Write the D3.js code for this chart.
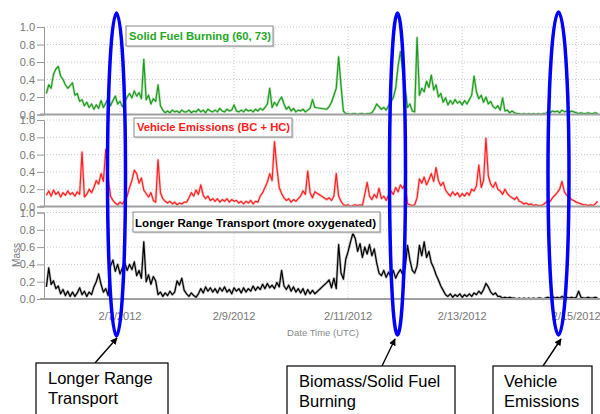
<!DOCTYPE html>
<html>
<head>
<meta charset="utf-8">
<script src="https://cdn.jsdelivr.net/npm/d3@7"></script>
<style>
  body { margin: 0; background: #fff; }
  svg { display: block; font-family: 'Liberation Sans', Arial, sans-serif; }
</style>
</head>
<body>
<div id="chart"></div>
<script>
// Parameters
const width = 600;
const height = 414;

// hourly samples, first one at 2/5/2012 16:00 UTC
const startHour = Date.UTC(2012, 1, 5, 16);
const endHour = Date.UTC(2012, 1, 15, 10);

const tickDates = [Date.UTC(2012, 1, 7), Date.UTC(2012, 1, 9), Date.UTC(2012, 1, 11), Date.UTC(2012, 1, 13), Date.UTC(2012, 1, 15)];
const tickLabels = ['2/7/2012', '2/9/2012', '2/11/2012', '2/13/2012', '2/15/2012'];
const yTicks = [0, 0.2, 0.4, 0.6, 0.8, 1.0];

const panelTitles = ['Solid Fuel Burning (60, 73)', 'Vehicle Emissions (BC + HC)', 'Longer Range Transport (more oxygenated)'];

const solidFuel = [
  null, 0.24, 0.34, 0.30, 0.46, 0.52, 0.55, 0.44, 0.40, 0.34, 0.30, 0.33,
  0.36, 0.22, 0.24, 0.15, 0.17, 0.10, 0.14, 0.08, 0.12, 0.06, 0.11, 0.07,
  0.16, 0.08, 0.13, 0.18, 0.10, 0.16, 0.21, 0.12, 0.15, 0.09, 0.14, 0.20,
  0.24, 0.19, 0.27, 0.21, 0.25, 0.18, 0.63, 0.17, 0.22, 0.12, 0.18, 0.15,
  0.34, 0.10, 0.05, 0.02, 0.04, 0.02, 0.05, 0.03, 0.04, 0.02, 0.05, 0.03,
  0.03, 0.05, 0.02, 0.04, 0.03, 0.06, 0.03, 0.05, 0.02, 0.06, 0.04, 0.03,
  0.05, 0.03, 0.07, 0.04, 0.03, 0.06, 0.04, 0.05, 0.11, 0.04, 0.03, 0.05,
  0.03, 0.06, 0.04, 0.05, 0.03, 0.06, 0.04, 0.07, 0.05, 0.08, 0.12, 0.30,
  0.08, 0.14, 0.10, 0.16, 0.20, 0.12, 0.06, 0.09, 0.04, 0.07, 0.03, 0.05,
  0.04, 0.06, 0.03, 0.05, 0.07, 0.17, 0.08, null, null, null, null, 0.06,
  0.09, 0.14, 0.22, 0.30, 0.66, 0.33, 0.04, 0.01, 0.01, 0.00, 0.01, 0.01,
  0.00, 0.01, 0.01, 0.00, 0.01, 0.01, 0.02, 0.06, 0.12, 0.09, 0.06, 0.08,
  0.05, 0.10, 0.15, 0.19, 0.30, 0.55, 0.72, 0.50, 0.30, 0.08, 0.12, 0.04,
  0.03, 0.88, 0.22, 0.30, 0.26, 0.38, 0.31, 0.45, 0.28, 0.34, 0.20, 0.24,
  0.14, 0.19, 0.11, 0.16, 0.12, 0.17, 0.13, 0.15, 0.11, 0.16, 0.12, 0.17,
  0.22, 0.44, 0.26, 0.18, 0.22, 0.14, 0.20, 0.12, 0.15, 0.09, 0.07, 0.10,
  0.05, 0.19, 0.04, 0.05, 0.02, 0.04, 0.02, 0.01, 0.01, 0.00, 0.01, 0.00,
  0.01, 0.00, 0.01, 0.00, 0.01, 0.00, 0.01, 0.01, 0.03, 0.02, 0.04, 0.03,
  0.04, 0.02, 0.05, 0.03, 0.04, 0.02, 0.04, 0.03, 0.02, 0.01, 0.02, 0.01,
  0.01, 0.02, 0.01, 0.01, 0.02, 0.01
];

const vehicle = [
  null, 0.13, 0.18, 0.12, 0.19, 0.14, 0.17, 0.11, 0.16, 0.13, 0.18, 0.14,
  0.16, 0.12, 0.17, 0.14, 0.63, 0.11, 0.14, 0.20, 0.16, 0.22, 0.30, 0.26,
  0.38, 0.29, 0.66, 0.33, 0.12, 0.07, 0.04, 0.02, 0.05, 0.03, 0.07, 0.12,
  0.22, 0.30, 0.42, 0.38, 0.27, 0.33, 0.19, 0.15, 0.11, 0.16, 0.07, 0.05,
  0.54, 0.16, 0.09, 0.06, 0.04, 0.06, 0.03, 0.05, 0.02, 0.04, 0.03, 0.05,
  0.05, 0.10, 0.16, 0.12, 0.19, 0.14, 0.25, 0.13, 0.09, 0.12, 0.07, 0.09,
  0.06, 0.09, 0.05, 0.08, 0.06, 0.09, 0.05, 0.08, 0.06, 0.07, 0.04, 0.06,
  0.03, 0.06, 0.04, 0.07, 0.03, 0.06, 0.05, 0.12, 0.16, 0.22, 0.28, 0.38,
  0.30, 0.75, 0.45, 0.22, 0.15, 0.10, 0.07, 0.09, 0.05, 0.08, 0.06, 0.09,
  0.12, 0.18, 0.14, 0.41, 0.16, 0.10, 0.17, null, null, null, null, 0.08,
  0.10, 0.07, 0.12, 0.38, 0.12, 0.06, 0.02, 0.01, 0.02, 0.00, 0.01, 0.02,
  0.01, 0.02, 0.01, 0.14, 0.28, 0.12, 0.08, 0.14, 0.10, 0.21, 0.09, 0.12,
  0.07, 0.13, 0.18, 0.14, 0.22, 0.17, 0.25, 0.21, 0.26, 0.03, 0.02, 0.01,
  0.02, 0.10, 0.32, 0.27, 0.34, 0.25, 0.31, 0.38, 0.29, 0.45, 0.30, 0.24,
  0.28, 0.19, 0.15, 0.12, 0.17, 0.13, 0.16, 0.11, 0.15, 0.12, 0.16, 0.13,
  0.20, 0.18, 0.24, 0.48, 0.22, 0.30, 0.79, 0.35, 0.26, 0.22, 0.28, 0.20,
  0.18, 0.14, 0.20, 0.15, 0.12, 0.10, 0.08, 0.11, 0.06, 0.05, 0.03, 0.04,
  0.02, 0.03, 0.01, 0.02, 0.01, 0.01, 0.02, 0.04, 0.07, 0.06, 0.10, 0.13,
  0.16, 0.20, 0.29, 0.17, 0.13, 0.11, 0.08, 0.07, 0.05, 0.04, 0.03, 0.02,
  0.02, 0.01, 0.02, 0.01, 0.03, 0.06
];

const longRange = [
  null, 0.14, 0.36, 0.17, 0.21, 0.12, 0.15, 0.06, 0.11, 0.04, 0.09, 0.03,
  0.08, 0.03, 0.07, 0.13, 0.05, 0.09, 0.03, 0.08, 0.05, 0.14, 0.20, 0.29,
  0.17, 0.08, 0.12, 0.04, 0.38, 0.45, 0.32, 0.40, 0.29, 0.36, 0.42, 0.33,
  0.40, 0.34, 0.43, 0.27, 0.33, 0.24, 0.66, 0.20, 0.28, 0.17, 0.26, 0.21,
  0.05, 0.08, 0.03, 0.07, 0.04, 0.09, 0.05, 0.08, 0.21, 0.16, 0.24, 0.10,
  0.06, 0.03, 0.07, 0.04, 0.02, 0.06, 0.12, 0.07, 0.14, 0.09, 0.13, 0.08,
  0.12, 0.07, 0.13, 0.09, 0.14, 0.08, 0.11, 0.06, 0.13, 0.09, 0.12, 0.07,
  0.13, 0.08, 0.12, 0.09, 0.15, 0.10, 0.14, 0.11, 0.17, 0.12, 0.18, 0.13,
  0.16, 0.12, 0.19, 0.14, 0.33, 0.15, 0.11, 0.16, 0.09, 0.14, 0.08, 0.12,
  0.07, 0.12, 0.05, 0.11, 0.06, 0.10, 0.06, null, null, null, null, 0.19,
  0.22, 0.13, 0.24, 0.12, 0.63, 0.30, 0.23, 0.46, 0.55, 0.66, 0.76, 0.70,
  0.55, 0.64, 0.48, 0.60, 0.52, 0.63, 0.50, 0.58, 0.42, 0.30, 0.27, 0.33,
  0.25, 0.31, 0.26, 0.33, 0.24, 0.30, 0.34, 0.28, 0.36, 0.62, 0.45, 0.33,
  0.30, 0.38, 0.62, 0.50, 0.66, 0.48, 0.55, 0.42, 0.36, 0.28, 0.22, 0.15,
  0.10, 0.05, 0.03, 0.06, 0.02, 0.05, 0.03, 0.06, 0.02, 0.05, 0.03, 0.06,
  0.03, 0.07, 0.05, 0.09, 0.06, 0.11, 0.18, 0.14, 0.08, 0.05, 0.07, 0.03,
  0.03, 0.01, 0.02, 0.01, 0.02, 0.01, 0.01, 0.00, 0.01, 0.00, 0.01, 0.00,
  0.01, 0.00, 0.01, 0.00, 0.01, 0.01, 0.00, 0.01, 0.02, 0.01, 0.03, 0.01,
  0.02, 0.01, 0.03, 0.01, 0.02, 0.01, 0.02, 0.01, 0.02, 0.09, 0.02, 0.01,
  0.01, 0.02, 0.01, 0.01, 0.02, 0.01
];

const annotations = [
  { lines: ['Longer Range', 'Transport'] },
  { lines: ['Biomass/Solid Fuel', 'Burning'] },
  { lines: ['Vehicle', 'Emissions'] }
];

// layout (pixel stuff, kept apart from the data)
const plotLeft = 44, plotRight = 600;
const panels = [
  { values: solidFuel, color: '#1f9a1f', haze: '#8fd08f', titleColor: '#1fa81f', bottom: 114.5, top: 27,
    box: { x: 126, y: 26, w: 147, h: 20, textX: 129, textY: 40, textW: 142 } },
  { values: vehicle, color: '#ff2020', haze: '#ffa0a0', titleColor: '#ff1a1a', bottom: 206.5, top: 120,
    box: { x: 134, y: 118, w: 158, h: 19, textX: 137, textY: 131, textW: 153 } },
  { values: longRange, color: '#000000', haze: '#909090', titleColor: '#000000', bottom: 299, top: 212.5,
    box: { x: 133, y: 212, w: 247, h: 20, textX: 135, textY: 226.5, textW: 241 } }
];
const ellipses = [
  { cx: 116.5, cy: 174.5, rx: 9, ry: 161.5 },
  { cx: 397.5, cy: 174, rx: 8, ry: 161 },
  { cx: 558.5, cy: 173.5, rx: 10.5, ry: 161.5 }
];
const noteBoxes = [
  { x: 36, y: 363, w: 132, textX: 48, arrow: [95, 363, 117, 338] },
  { x: 287, y: 366, w: 168, textX: 299, arrow: [382, 366, 395, 339] },
  { x: 493, y: 366, w: 99, textX: 504, arrow: [543, 366, 561, 339] }
];

const svg = d3.select('#chart')
  .append('svg')
  .attr('width', width)
  .attr('height', height);

svg.append('defs').append('marker')
  .attr('id', 'arrowHead')
  .attr('viewBox', '0 0 10 10')
  .attr('refX', 9).attr('refY', 5)
  .attr('markerWidth', 7).attr('markerHeight', 7)
  .attr('markerUnits', 'userSpaceOnUse')
  .attr('orient', 'auto')
  .append('path')
  .attr('d', 'M0,0 L10,5 L0,10 z')
  .attr('fill', '#000');

const x = d3.scaleUtc()
  .domain([new Date(startHour), new Date(endHour)])
  .range([plotLeft, plotRight]);

panels.forEach((p, k) => {
  const y = d3.scaleLinear().domain([0, 1]).range([p.bottom, p.top]);
  const g = svg.append('g');

  // dotted grid
  g.append('g').selectAll('line')
    .data(yTicks.slice(1))
    .join('line')
    .attr('x1', plotLeft).attr('x2', plotRight)
    .attr('y1', d => y(d)).attr('y2', d => y(d))
    .attr('stroke', '#c8c8c8').attr('stroke-dasharray', '1,2');
  g.append('g').selectAll('line')
    .data(tickDates)
    .join('line')
    .attr('x1', d => x(d)).attr('x2', d => x(d))
    .attr('y1', y(1)).attr('y2', y(0))
    .attr('stroke', '#c8c8c8').attr('stroke-dasharray', '1,2');

  // left axis
  const axis = g.append('g')
    .attr('transform', `translate(${plotLeft},0)`)
    .call(d3.axisLeft(y).tickValues(yTicks).tickFormat(d3.format('.1f')).tickSize(7).tickPadding(2));
  axis.select('.domain').attr('stroke', '#999');
  axis.selectAll('.tick line').attr('stroke', '#999');
  axis.selectAll('.tick text')
    .attr('fill', '#777')
    .style('font-size', '11px')
    .style('font-family', "'Liberation Sans', Arial, sans-serif");

  // series: soft halo under a thin line, like the dense raw data
  const pts = p.values
    .map((v, i) => ({ t: new Date(startHour + i * 3600000), v: v }))
    .filter(d => d.v !== null);
  const line = d3.line().x(d => x(d.t)).y(d => y(d.v));
  g.append('path')
    .datum(pts)
    .attr('fill', 'none')
    .attr('stroke', p.haze)
    .attr('stroke-width', 2.6)
    .attr('stroke-opacity', 0.6)
    .attr('stroke-linejoin', 'round')
    .attr('d', line);
  g.append('path')
    .datum(pts)
    .attr('fill', 'none')
    .attr('stroke', p.color)
    .attr('stroke-width', 1.2)
    .attr('stroke-linejoin', 'round')
    .attr('d', line);

  // base line
  g.append('line')
    .attr('x1', plotLeft - 4).attr('x2', plotRight)
    .attr('y1', y(0)).attr('y2', y(0))
    .attr('stroke', '#a0a0a0').attr('stroke-width', 2);

  // title box
  const b = p.box;
  g.append('rect')
    .attr('x', b.x + 1.5).attr('y', b.y + 1.5)
    .attr('width', b.w).attr('height', b.h)
    .attr('fill', '#d8d8d8');
  g.append('rect')
    .attr('x', b.x).attr('y', b.y)
    .attr('width', b.w).attr('height', b.h)
    .attr('fill', '#fff').attr('stroke', '#888').attr('stroke-width', 1);
  g.append('text')
    .attr('x', b.textX).attr('y', b.textY)
    .attr('fill', p.titleColor)
    .attr('font-weight', 'bold')
    .attr('font-size', '11px')
    .attr('textLength', b.textW)
    .attr('lengthAdjust', 'spacingAndGlyphs')
    .text(panelTitles[k]);
});

// x tick labels
svg.append('g').selectAll('text')
  .data(tickDates)
  .join('text')
  .attr('x', d => x(d))
  .attr('y', 320)
  .attr('text-anchor', 'middle')
  .attr('fill', '#777')
  .attr('font-size', '11px')
  .text((d, i) => tickLabels[i]);

svg.append('text')
  .attr('x', 323).attr('y', 336)
  .attr('text-anchor', 'middle')
  .attr('fill', '#888')
  .attr('font-size', '9.5px')
  .text('Date Time (UTC)');

svg.append('text')
  .attr('transform', 'translate(19.5,255) rotate(-90)')
  .attr('text-anchor', 'middle')
  .attr('fill', '#777')
  .attr('font-size', '10px')
  .text('Mass');

// blue highlight ellipses
svg.append('g').selectAll('ellipse')
  .data(ellipses)
  .join('ellipse')
  .attr('cx', d => d.cx).attr('cy', d => d.cy)
  .attr('rx', d => d.rx).attr('ry', d => d.ry)
  .attr('fill', 'none')
  .attr('stroke', '#0000ff')
  .attr('stroke-width', 3.5);

// annotation boxes + arrows
noteBoxes.forEach((n, i) => {
  svg.append('line')
    .attr('x1', n.arrow[0]).attr('y1', n.arrow[1])
    .attr('x2', n.arrow[2]).attr('y2', n.arrow[3])
    .attr('stroke', '#000').attr('stroke-width', 1.4)
    .attr('marker-end', 'url(#arrowHead)');
  svg.append('rect')
    .attr('x', n.x).attr('y', n.y)
    .attr('width', n.w).attr('height', 70)
    .attr('fill', '#fff').attr('stroke', '#000').attr('stroke-width', 1.2);
  svg.append('g').selectAll('text')
    .data(annotations[i].lines)
    .join('text')
    .attr('x', n.textX)
    .attr('y', (d, j) => n.y + 21 + j * 20)
    .attr('font-size', '16.5px')
    .attr('fill', '#000')
    .text(d => d);
});
</script>
</body>
</html>
